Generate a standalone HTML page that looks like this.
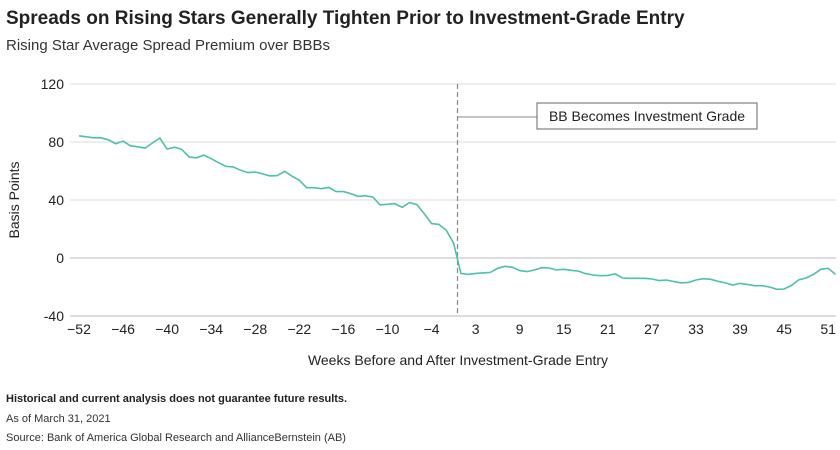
<!DOCTYPE html>
<html><head><meta charset="utf-8"><style>
body{margin:0;background:#fff;font-family:"Liberation Sans",sans-serif;}
svg text{font-family:"Liberation Sans",sans-serif;}
</style></head><body>
<svg width="840" height="445">
<text x="6" y="24" font-size="19" font-weight="bold" fill="#222">Spreads on Rising Stars Generally Tighten Prior to Investment-Grade Entry</text>
<text x="6" y="50" font-size="15" fill="#333">Rising Star Average Spread Premium over BBBs</text>
<g id="grid"></g>
<g id="xt"></g>
<line x1="457.5" y1="84" x2="457.5" y2="316" stroke="#888" stroke-width="1.2" stroke-dasharray="5,3"/>
<line x1="457.5" y1="117" x2="537" y2="117" stroke="#888" stroke-width="1"/>
<rect x="537" y="103" width="220" height="26" fill="#fff" stroke="#666" stroke-width="1"/>
<text x="647" y="121" font-size="14" fill="#222" text-anchor="middle">BB Becomes Investment Grade</text>
<path id="line" fill="none" stroke="#4cc1ac" stroke-width="1.6"/>
<text transform="translate(19,200) rotate(-90)" font-size="14" fill="#222" text-anchor="middle">Basis Points</text>
<text x="458" y="365" font-size="14" fill="#222" text-anchor="middle">Weeks Before and After Investment-Grade Entry</text>
<text x="6" y="402" font-size="11" font-weight="bold" fill="#222">Historical and current analysis does not guarantee future results.</text>
<text x="6" y="422" font-size="11" fill="#333">As of March 31, 2021</text>
<text x="6" y="441" font-size="11" fill="#333">Source: Bank of America Global Research and AllianceBernstein (AB)</text>
</svg>
<script>
const yTicks=[120,80,40,0,-40];
const xTickLabels=[-52,-46,-40,-34,-28,-22,-16,-10,-4,3,9,15,21,27,33,39,45,51];
const weeks=[];for(let w=-52;w<=52;w++){if(w!==0)weeks.push(w);}
const values=[84.3,83.6,82.9,82.9,81.5,78.8,80.6,77.4,76.7,75.8,79.3,82.7,75.1,76.4,74.9,69.6,69.1,71,68.5,65.7,63.2,62.8,60.5,58.9,59.3,58,56.6,56.8,59.8,56.4,53.6,48.5,48.5,47.8,48.7,45.8,45.8,44.4,42.5,43,42,36.6,37,37.5,35,38.2,36.8,30.6,23.7,23.2,19.1,10.3,
-10.6,-11.3,-10.6,-10.3,-9.9,-7.1,-5.7,-6.4,-8.7,-9.4,-8.3,-6.7,-6.9,-8.3,-7.8,-8.5,-9,-10.8,-11.7,-12.2,-12,-11,-13.8,-14,-14,-14,-14.5,-15.6,-15.2,-16.3,-17.2,-16.8,-15.2,-14.3,-14.7,-16.1,-17.2,-18.6,-17.5,-18.2,-19.1,-19.1,-20,-21.6,-21.4,-18.9,-15,-13.8,-11.3,-7.8,-7.1,-11.3];
const NS='http://www.w3.org/2000/svg';
const x=i=>79+i*7.345;
const y=v=>258-v*1.45;
const grid=document.getElementById('grid');
yTicks.forEach(t=>{
  const l=document.createElementNS(NS,'line');
  l.setAttribute('x1',70);l.setAttribute('x2',836);l.setAttribute('y1',y(t));l.setAttribute('y2',y(t));
  l.setAttribute('stroke',t===-40?'#bbb':(t===0?'#bbb':'#ddd'));l.setAttribute('stroke-width',1);
  
  
  grid.appendChild(l);
  const tx=document.createElementNS(NS,'text');
  tx.setAttribute('x',64);tx.setAttribute('y',y(t)+5);tx.setAttribute('text-anchor','end');
  tx.setAttribute('font-size',14);tx.setAttribute('fill','#222');tx.textContent=t;
  
  
  grid.appendChild(tx);
});
const xt=document.getElementById('xt');
xTickLabels.forEach(w=>{
  const i=weeks.indexOf(w);
  const tx=document.createElementNS(NS,'text');
  tx.setAttribute('x',x(i));tx.setAttribute('y',334);tx.setAttribute('text-anchor','middle');
  tx.setAttribute('font-size',14);tx.setAttribute('fill','#222');tx.textContent=w<0?'\u2212'+(-w):w;
  
  
  xt.appendChild(tx);
});
document.getElementById('line').setAttribute('d',values.map((v,i)=>(i?'L':'M')+x(i).toFixed(1)+','+y(v).toFixed(1)).join(''));
</script>
</body></html>
